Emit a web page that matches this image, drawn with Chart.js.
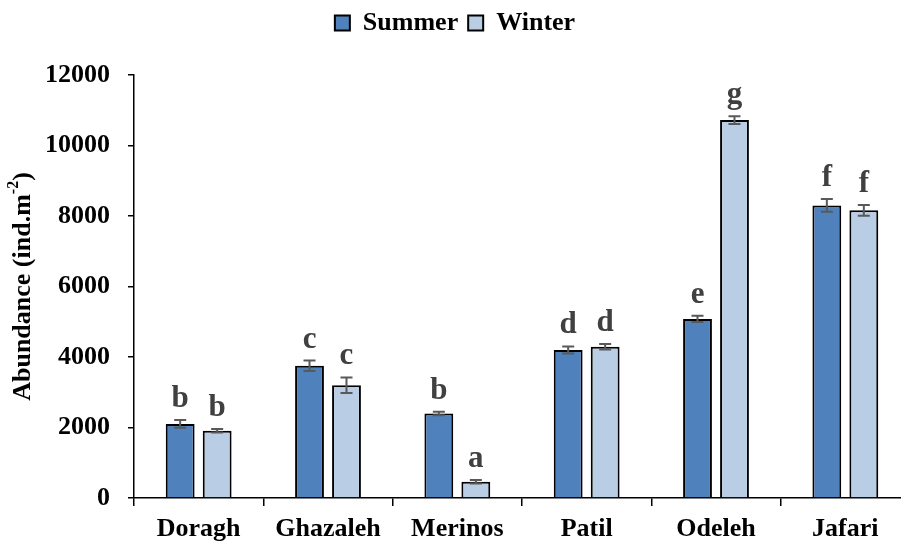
<!DOCTYPE html>
<html>
<head>
<title>Abundance</title>
<style>
  html, body { margin: 0; padding: 0; background: #fff; overflow: hidden; }
  #wrap { width: 910px; height: 543px; }
</style>
</head>
<body>
<div id="wrap"><canvas id="barChart"></canvas></div>
<script src="https://cdn.jsdelivr.net/npm/chart.js@4.4.1/dist/chart.umd.min.js"></script>
<script>
  // data
  var SITES = ['Doragh', 'Ghazaleh', 'Merinos', 'Patil', 'Odeleh', 'Jafari'];
  var SUMMER = [2100, 3750, 2400, 4200, 5080, 8300];
  var WINTER = [1910, 3200, 460, 4290, 10720, 8160];
  var SUMMER_ERR = [110, 150, 50, 100, 90, 180];
  var WINTER_ERR = [50, 220, 50, 80, 110, 150];
  var SUMMER_LETTERS = ['b', 'c', 'b', 'd', 'e', 'f'];
  var WINTER_LETTERS = ['b', 'c', 'a', 'd', 'g', 'f'];
  var Y_TICKS = [0, 2000, 4000, 6000, 8000, 10000, 12000];

  var SERIF = "'Liberation Serif', 'Times New Roman', serif";

  // extra space under the legend
  var legendGap = {
    id: 'legendGap',
    beforeLayout: function(chart) {
      var lg = chart.legend;
      if (lg && !lg._gapPatched) {
        var fit = lg.fit;
        lg.fit = function() { fit.call(this); this.height += 29; };
        lg._gapPatched = true;
      }
    }
  };

  // error bars + significance letters
  var errorBars = {
    id: 'errorBars',
    afterDatasetsDraw: function(chart) {
      var ctx = chart.ctx;
      var y = chart.scales.y;
      chart.data.datasets.forEach(function(ds, di) {
        var meta = chart.getDatasetMeta(di);
        meta.data.forEach(function(bar, i) {
          var v = ds.data[i], e = ds.errors[i];
          var top = y.getPixelForValue(v + e);
          var bot = y.getPixelForValue(v - e);
          var x = bar.x;
          ctx.save();
          ctx.strokeStyle = '#595959';
          ctx.lineWidth = 2;
          ctx.beginPath();
          ctx.moveTo(x, top); ctx.lineTo(x, bot);
          ctx.moveTo(x - 6, top); ctx.lineTo(x + 6, top);
          ctx.moveTo(x - 6, bot); ctx.lineTo(x + 6, bot);
          ctx.stroke();
          ctx.fillStyle = '#404040';
          ctx.font = 'bold 31px ' + SERIF;
          ctx.textAlign = 'center';
          ctx.textBaseline = 'alphabetic';
          ctx.fillText(ds.letters[i], x, top - 13);
          ctx.restore();
        });
      });
    }
  };

  // y axis title with superscript
  var yTitle = {
    id: 'yTitle',
    afterDraw: function(chart) {
      var ctx = chart.ctx;
      var area = chart.chartArea;
      var cy = (area.top + area.bottom) / 2;
      var big = 'bold 26px ' + SERIF, small = 'bold 16px ' + SERIF;
      var p1 = 'Abundance (ind.m', p2 = '-2', p3 = ')';
      ctx.save();
      ctx.font = big; var w1 = ctx.measureText(p1).width, w3 = ctx.measureText(p3).width;
      ctx.font = small; var w2 = ctx.measureText(p2).width;
      var total = w1 + w2 + w3;
      ctx.translate(23, cy);
      ctx.rotate(-Math.PI / 2);
      ctx.fillStyle = '#000';
      ctx.textBaseline = 'middle';
      ctx.textAlign = 'left';
      var sx = -total / 2;
      ctx.font = big; ctx.fillText(p1, sx, 0);
      ctx.font = small; ctx.fillText(p2, sx + w1, -9);
      ctx.font = big; ctx.fillText(p3, sx + w1 + w2, 0);
      ctx.restore();
    }
  };

  var ctxB = document.getElementById('barChart').getContext('2d');
  var myBarChart = new Chart(ctxB, {
    type: 'bar',
    data: {
      labels: SITES,
      datasets: [{
        label: 'Summer',
        data: SUMMER,
        errors: SUMMER_ERR,
        letters: SUMMER_LETTERS,
        backgroundColor: '#4F81BD',
        borderColor: '#000',
        borderWidth: 2,
        categoryPercentage: 0.572,
        barPercentage: 0.78
      }, {
        label: 'Winter',
        data: WINTER,
        errors: WINTER_ERR,
        letters: WINTER_LETTERS,
        backgroundColor: '#B9CDE5',
        borderColor: '#000',
        borderWidth: 2,
        categoryPercentage: 0.572,
        barPercentage: 0.78
      }]
    },
    options: {
      responsive: true,
      maintainAspectRatio: false,
      animation: false,
      layout: { padding: { top: 0, left: 0, right: 0, bottom: 0 } },
      plugins: {
        legend: {
          position: 'top',
          labels: {
            boxWidth: 15,
            boxHeight: 15,
            padding: 10,
            color: '#000',
            font: { family: SERIF, size: 26, weight: 'bold' }
          }
        },
        tooltip: { enabled: false }
      },
      scales: {
        x: {
          grid: { display: true, drawOnChartArea: false, offset: true, tickLength: 8, color: '#000', lineWidth: 1.5 },
          border: { color: '#000', width: 1.5 },
          ticks: { color: '#000', padding: 8, font: { family: SERIF, size: 26, weight: 'bold' } },
          afterFit: function(s) { s.height = 45; }
        },
        y: {
          min: 0,
          max: 12000,
          afterBuildTicks: function(s) { s.ticks = Y_TICKS.map(function(v) { return { value: v }; }); },
          grid: { drawOnChartArea: false, tickLength: 6, color: '#000', lineWidth: 1.5 },
          border: { color: '#000', width: 1.5 },
          ticks: { color: '#000', padding: 18, callback: function(v) { return v; }, font: { family: SERIF, size: 26, weight: 'bold' } },
          afterFit: function(s) { s.width = 134; }
        }
      }
    },
    plugins: [legendGap, errorBars, yTitle]
  });
</script>
</body>
</html>
